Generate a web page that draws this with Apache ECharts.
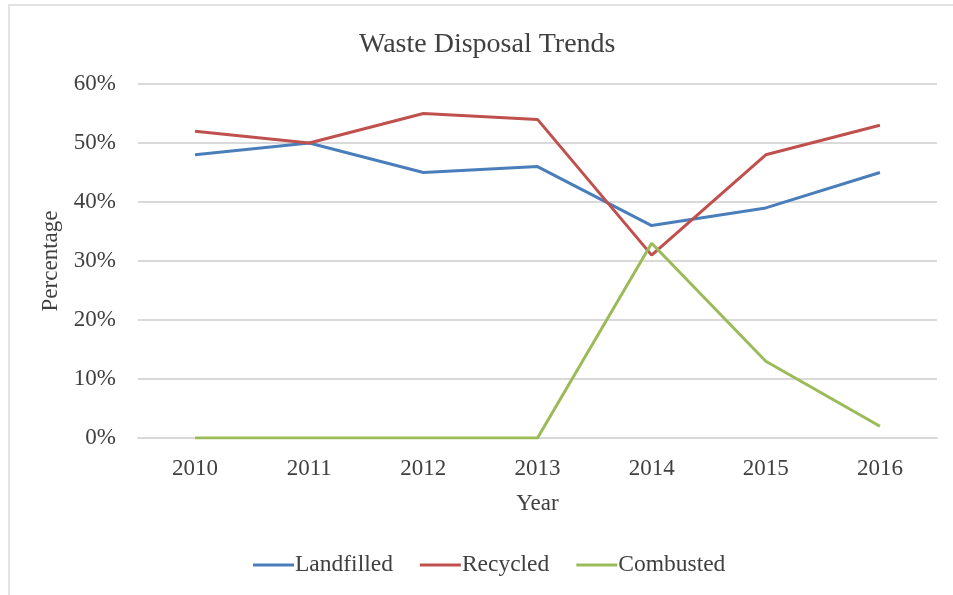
<!DOCTYPE html>
<html>
<head>
<meta charset="utf-8">
<script src="https://cdn.jsdelivr.net/npm/echarts@6/dist/echarts.min.js"></script>
<style>html,body{margin:0;padding:0;background:#fff}#c{width:953px;height:595px}</style>
</head>
<body>
<div id="c"></div>
<script>
const years = ['2010','2011','2012','2013','2014','2015','2016'];
const landfilled = [48, 50, 45, 46, 36, 39, 45];
const recycled = [52, 50, 55, 54, 31, 48, 53];
const combusted = [0, 0, 0, 0, 33, 13, 2];
const yTicks = [0, 10, 20, 30, 40, 50, 60];

const font = '"Liberation Serif", "Times New Roman", serif';
const txt = '#404040';
const chart = echarts.init(document.getElementById('c'), null, {renderer: 'canvas'});
function line(name, data, color) {
  return {
    name, type: 'line', data, symbol: 'none',
    lineStyle: {color, width: 3}, itemStyle: {color},
    emphasis: {disabled: true}
  };
}
chart.setOption({
  animation: false,
  backgroundColor: '#fff',
  graphic: [{
    type: 'rect', shape: {x: 9, y: 5, width: 1000, height: 700},
    style: {fill: 'none', stroke: '#e3e3e3', lineWidth: 2}, silent: true, z: -1
  }],
  title: {
    text: 'Waste Disposal Trends', left: 354, top: 26,
    textStyle: {fontFamily: font, fontSize: 28, fontWeight: 'normal', color: txt}
  },
  legend: {
    bottom: 13, left: 248, itemWidth: 41, itemHeight: 3, itemGap: 27, icon: 'rect',
    textStyle: {fontFamily: font, fontSize: 23.5, color: txt, padding: [0, 0, 0, -4]},
    data: ['Landfilled', 'Recycled', 'Combusted']
  },
  grid: {left: 138, right: 16, top: 84, bottom: 157},
  xAxis: {
    type: 'category', data: years, boundaryGap: true,
    name: 'Year', nameLocation: 'middle', nameGap: 54,
    nameTextStyle: {fontFamily: font, fontSize: 23, color: txt},
    axisLine: {show: true, lineStyle: {color: '#d9d9d9', width: 2}},
    axisTick: {show: false},
    axisLabel: {fontFamily: font, fontSize: 23, color: txt, margin: 19}
  },
  yAxis: {
    type: 'value', min: yTicks[0], max: yTicks[yTicks.length - 1], interval: 10,
    name: 'Percentage', nameLocation: 'middle', nameGap: 70,
    nameTextStyle: {fontFamily: font, fontSize: 23, color: txt},
    axisLine: {show: false}, axisTick: {show: false},
    axisLabel: {fontFamily: font, fontSize: 23, color: txt, margin: 22, formatter: v => v + '%'},
    splitLine: {lineStyle: {color: '#d9d9d9', width: 2}}
  },
  series: [
    line('Landfilled', landfilled, '#4a7ebb'),
    line('Recycled', recycled, '#c0504d'),
    line('Combusted', combusted, '#9bbb59')
  ]
});
</script>
</body>
</html>
